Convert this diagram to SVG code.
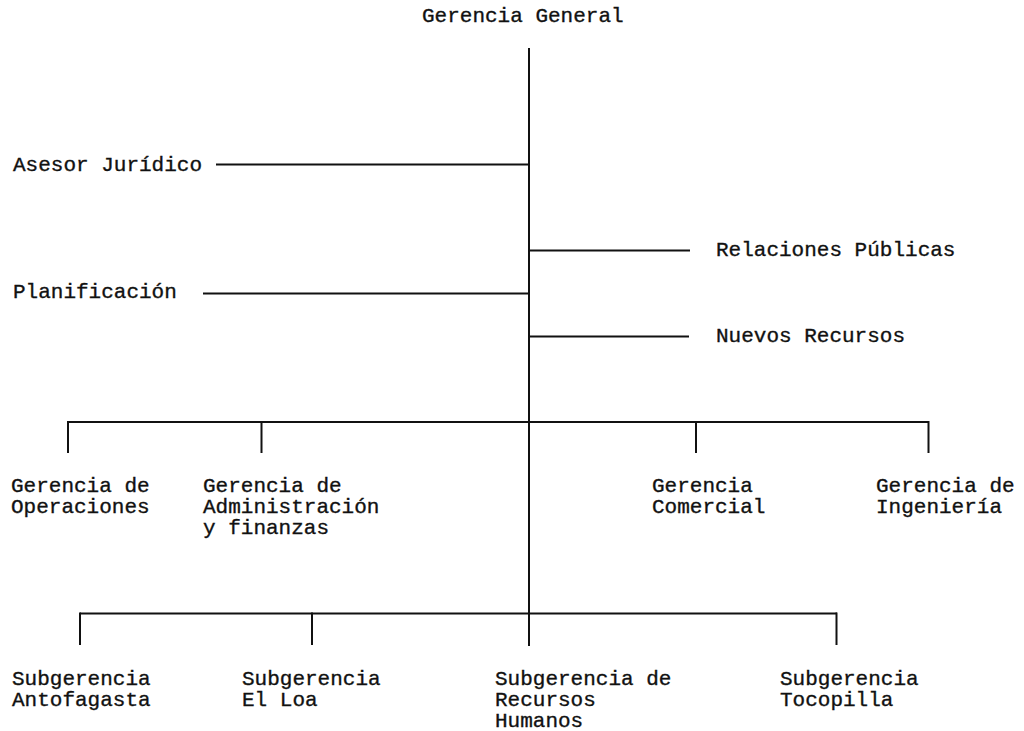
<svg xmlns="http://www.w3.org/2000/svg" width="1024" height="731" viewBox="0 0 1024 731">
<style>
  text { font-family: "Liberation Mono", "Courier New", monospace; font-size: 21px; fill: #111; stroke: #111; stroke-width: 0.35px; }
  .ln { stroke: #111; stroke-width: 2; fill: none; stroke-linecap: butt; }
</style>
<rect width="1024" height="731" fill="#fff"/>
<g id="connectors">
  <line class="ln" x1="529" y1="48" x2="529" y2="646"/>
  <line class="ln" x1="216" y1="164.5" x2="529" y2="164.5"/>
  <line class="ln" x1="203" y1="293.5" x2="529" y2="293.5"/>
  <line class="ln" x1="529" y1="250.5" x2="690" y2="250.5"/>
  <line class="ln" x1="529" y1="336.5" x2="689" y2="336.5"/>
  <line class="ln" x1="68" y1="422" x2="929" y2="422"/>
  <line class="ln" x1="68" y1="421" x2="68" y2="453"/>
  <line class="ln" x1="261.5" y1="421" x2="261.5" y2="453"/>
  <line class="ln" x1="696" y1="421" x2="696" y2="453"/>
  <line class="ln" x1="928.5" y1="421" x2="928.5" y2="453"/>
  <line class="ln" x1="80" y1="613.5" x2="837" y2="613.5"/>
  <line class="ln" x1="80" y1="612.5" x2="80" y2="645"/>
  <line class="ln" x1="312" y1="612.5" x2="312" y2="645"/>
  <line class="ln" x1="836.5" y1="612.5" x2="836.5" y2="645"/>
</g>
<g id="gerencia-general"><text x="422" y="22">Gerencia General</text></g>
<g id="asesor-juridico"><text x="13" y="171">Asesor Jurídico</text></g>
<g id="planificacion"><text x="13" y="298">Planificación</text></g>
<g id="relaciones-publicas"><text x="716" y="256">Relaciones Públicas</text></g>
<g id="nuevos-recursos"><text x="716" y="342">Nuevos Recursos</text></g>
<g id="gerencia-operaciones"><text x="11" y="492">Gerencia de</text><text x="11" y="513">Operaciones</text></g>
<g id="gerencia-administracion"><text x="203" y="492">Gerencia de</text><text x="203" y="513">Administración</text><text x="203" y="534">y finanzas</text></g>
<g id="gerencia-comercial"><text x="652" y="492">Gerencia</text><text x="652" y="513">Comercial</text></g>
<g id="gerencia-ingenieria"><text x="876" y="492">Gerencia de</text><text x="876" y="513">Ingeniería</text></g>
<g id="subgerencia-antofagasta"><text x="12" y="685">Subgerencia</text><text x="12" y="706">Antofagasta</text></g>
<g id="subgerencia-el-loa"><text x="242" y="685">Subgerencia</text><text x="242" y="706">El Loa</text></g>
<g id="subgerencia-rrhh"><text x="495" y="685">Subgerencia de</text><text x="495" y="706">Recursos</text><text x="495" y="727">Humanos</text></g>
<g id="subgerencia-tocopilla"><text x="780" y="685">Subgerencia</text><text x="780" y="706">Tocopilla</text></g>
</svg>
